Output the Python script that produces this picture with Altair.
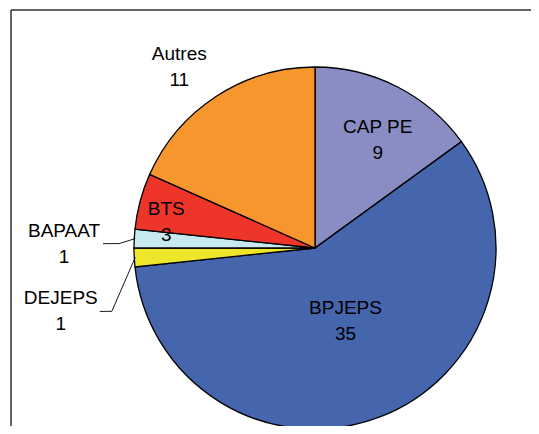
import altair as alt
import numpy as np
import pandas as pd

# ---- data ----
categories = ["CAP PE", "BPJEPS", "DEJEPS", "BAPAAT", "BTS", "Autres"]
counts = [9, 35, 1, 1, 3, 11]
colors = ["#8A8DC3", "#4565AD", "#EEE62B", "#C6EAF0", "#EE3529", "#F7962D"]

# ---- layout (style/position, not data) ----
W, H = 523, 418
CX, CY = 307, 240
R = 181
LH = 26
label_dist = [125, 79, 262, 251, 151, 226]      # px from pie centre
label_turn = [3.1, -1.7, -11.0, -2.0, -5.1, -3.9]  # deg shift from slice mid-angle
leader = {"BAPAAT": True, "DEJEPS": True}

total = float(sum(counts))
cum = np.cumsum(counts)
mid_deg = [(c - v / 2.0) / total * 360.0 for c, v in zip(cum, counts)]

df = pd.DataFrame({"cat": categories, "n": counts, "idx": list(range(len(categories)))})

lab_x, lab_y = [], []
for m, d, t in zip(mid_deg, label_dist, label_turn):
    a = np.radians(m + t)
    lab_x.append(CX + d * np.sin(a))
    lab_y.append(CY - d * np.cos(a))
labels = pd.DataFrame({
    "label": [f"{c}\n{n}" for c, n in zip(categories, counts)],
    "x": lab_x, "y": [v - LH / 2.0 for v in lab_y],
})

rows = []
for i, c in enumerate(categories):
    if c in leader:
        a = np.radians(mid_deg[i])
        ex, ey = CX + (R - 1) * np.sin(a), CY - (R - 1) * np.cos(a)
        sx = lab_x[i] + 39
        rows += [
            {"g": c, "o": 0, "x": sx, "y": lab_y[i]},
            {"g": c, "o": 1, "x": sx + (16 if c == "BAPAAT" else 12), "y": lab_y[i]},
            {"g": c, "o": 2, "x": ex, "y": ey},
        ]
lead_df = pd.DataFrame(rows)

pie = alt.Chart(df).mark_arc(outerRadius=R, stroke="black", strokeWidth=1.3).encode(
    theta=alt.Theta("n:Q", stack=True),
    order=alt.Order("idx:Q"),
    color=alt.Color("cat:N", scale=alt.Scale(domain=categories, range=colors), legend=None),
    x=alt.value(CX),
    y=alt.value(CY),
)

text = alt.Chart(labels).mark_text(
    font="Liberation Sans", fontSize=19, color="black", lineBreak="\n",
    lineHeight=LH, align="center", baseline="middle",
).encode(
    x=alt.X("x:Q", scale=None, axis=None),
    y=alt.Y("y:Q", scale=None, axis=None),
    text="label:N",
)

lines = alt.Chart(lead_df).mark_line(color="black", strokeWidth=0.9).encode(
    x=alt.X("x:Q", scale=None, axis=None),
    y=alt.Y("y:Q", scale=None, axis=None),
    detail="g:N",
    order="o:Q",
)

one = pd.DataFrame({"a": [0]})
frame_top = alt.Chart(one).mark_rule(color="#303030", strokeWidth=1.5).encode(
    x=alt.value(3), x2=alt.value(W), y=alt.value(2)
)
frame_left = alt.Chart(one).mark_rule(color="#303030", strokeWidth=1.5).encode(
    x=alt.value(3), y=alt.value(2), y2=alt.value(H)
)

chart = alt.layer(frame_top, frame_left, pie, lines, text).properties(
    width=W, height=H, autosize=alt.AutoSizeParams(type="none"), padding=0,
).configure_view(stroke=None).resolve_scale(x="independent", y="independent")

chart.save("out.html", embed_options={"renderer": "svg", "actions": False})
